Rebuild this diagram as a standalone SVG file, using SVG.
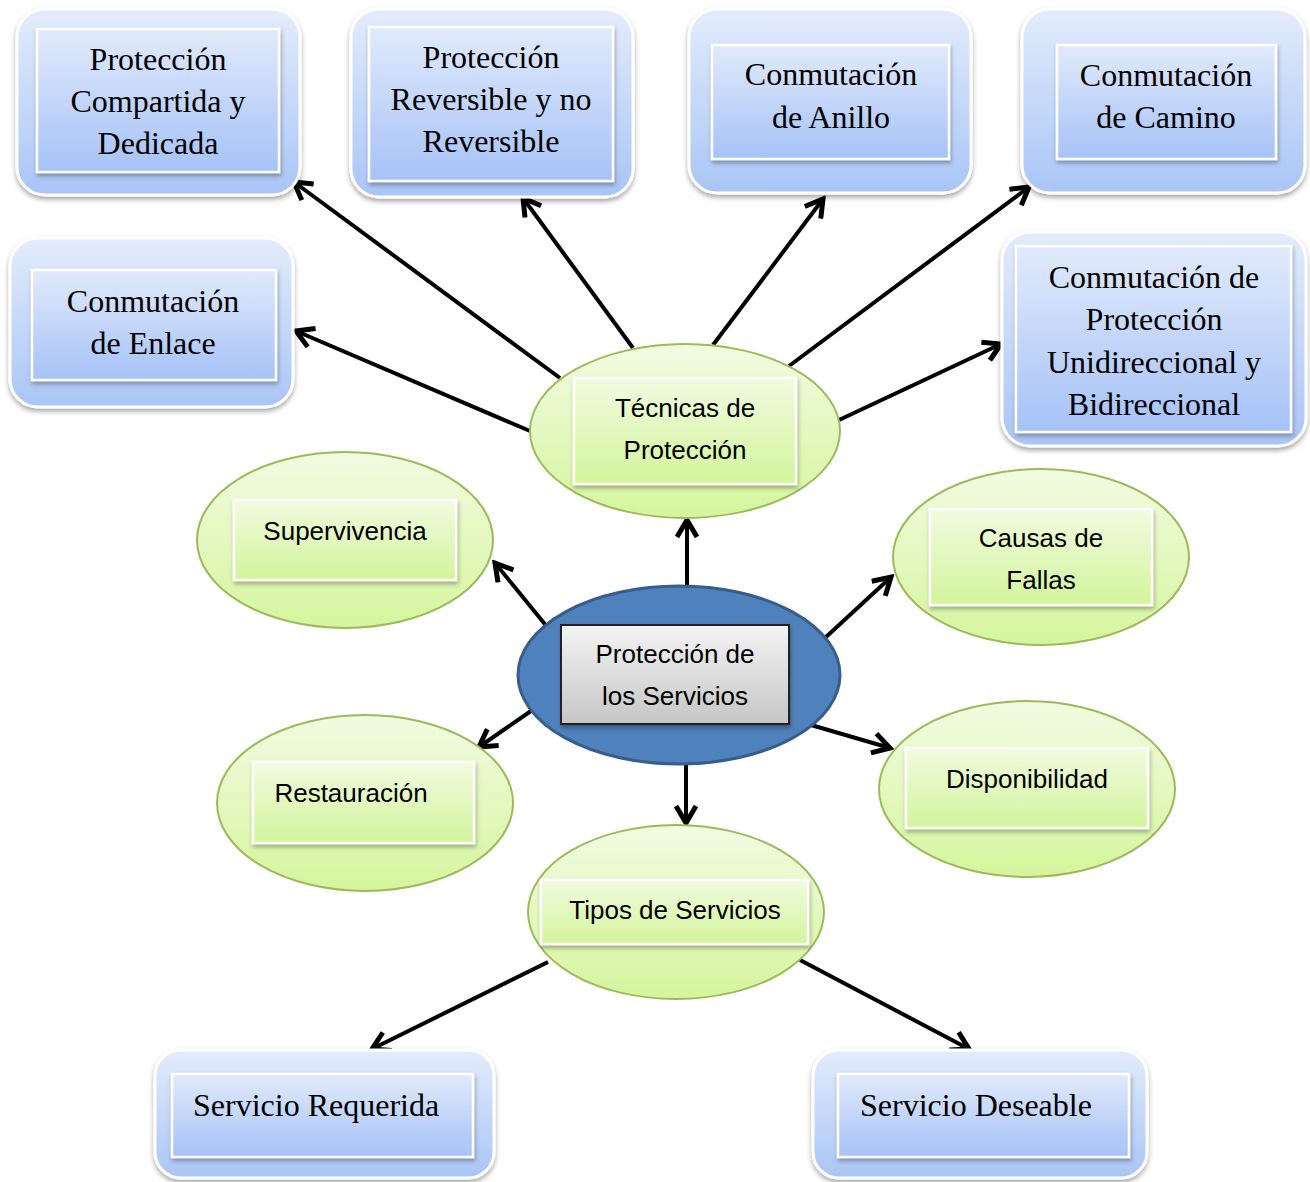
<svg xmlns="http://www.w3.org/2000/svg" width="1310" height="1182" viewBox="0 0 1310 1182">
<defs>
<linearGradient id="gBlueOuter" x1="0" y1="0" x2="0" y2="1"><stop offset="0" stop-color="#e3ecfb"/><stop offset="1" stop-color="#a9c5f6"/></linearGradient>
<linearGradient id="gBlueInner" x1="0" y1="0" x2="0" y2="1"><stop offset="0" stop-color="#e1eafb"/><stop offset="1" stop-color="#a6c2f7"/></linearGradient>
<linearGradient id="gGreen" x1="0" y1="0" x2="0" y2="1"><stop offset="0" stop-color="#f2fbe2"/><stop offset="1" stop-color="#d6f59d"/></linearGradient>
<linearGradient id="gGreenInner" x1="0" y1="0" x2="0" y2="1"><stop offset="0" stop-color="#f1fbe0"/><stop offset="1" stop-color="#d3f49b"/></linearGradient>
<linearGradient id="gGray" x1="0" y1="0" x2="0" y2="1"><stop offset="0" stop-color="#f4f4f4"/><stop offset="1" stop-color="#c6c6c6"/></linearGradient>
<filter id="sh" x="-10%" y="-10%" width="125%" height="130%"><feDropShadow dx="0" dy="3" stdDeviation="2.5" flood-color="#000" flood-opacity="0.35"/></filter>
<filter id="shs" x="-10%" y="-10%" width="125%" height="130%"><feDropShadow dx="1" dy="3" stdDeviation="2" flood-color="#000" flood-opacity="0.3"/></filter>
<marker id="arr" viewBox="0 0 24 24" refX="20" refY="12" markerWidth="24" markerHeight="24" markerUnits="userSpaceOnUse" orient="auto">
<path d="M3,2 L20,12 L3,22" fill="none" stroke="#000" stroke-width="5" stroke-linejoin="miter"/>
</marker>
</defs>
<style>
.outer{fill:url(#gBlueOuter);stroke:#fff;stroke-width:3;filter:url(#sh)}
.inner{fill:url(#gBlueInner);stroke:#fff;stroke-width:2.5;filter:url(#shs)}
.ell{fill:url(#gGreen);stroke:#9bbb59;stroke-width:2}
.gin{fill:url(#gGreenInner);stroke:#fff;stroke-width:2.5;filter:url(#shs)}
.serif{font-family:"Liberation Serif","Times New Roman",serif;font-size:32px;fill:#000;text-anchor:middle}
.sans{font-family:"Liberation Sans",Arial,sans-serif;font-size:26px;fill:#000;text-anchor:middle}
.conn line{stroke:#000;stroke-width:4;marker-end:url(#arr)}
</style>
<rect width="1310" height="1182" fill="#fff"/>

<g class="conn" id="connectors">
<line x1="687" y1="586" x2="687" y2="520"/>
<line x1="548" y1="628" x2="495" y2="563"/>
<line x1="826" y1="637" x2="891" y2="577"/>
<line x1="531" y1="711" x2="479" y2="747"/>
<line x1="811" y1="725" x2="890" y2="748"/>
<line x1="686" y1="765" x2="686" y2="823"/>
<line x1="560" y1="378" x2="294" y2="182"/>
<line x1="633" y1="348" x2="523" y2="198"/>
<line x1="713" y1="345" x2="823" y2="199"/>
<line x1="789" y1="366" x2="1029" y2="187"/>
<line x1="530" y1="431" x2="296" y2="331"/>
<line x1="839" y1="420" x2="1001" y2="344"/>
<line x1="548" y1="962" x2="372" y2="1049"/>
<line x1="800" y1="960" x2="969" y2="1049"/>
</g>

<g id="n-compartida">
<rect class="outer" x="17" y="9" width="283" height="186" rx="28"/>
<rect class="inner" x="37" y="29" width="242" height="143"/>
<text class="serif" x="158" y="70">Protección</text>
<text class="serif" x="158" y="112">Compartida y</text>
<text class="serif" x="158" y="154">Dedicada</text>
</g>
<g id="n-reversible">
<rect class="outer" x="351" y="9" width="282" height="188" rx="28"/>
<rect class="inner" x="369" y="27" width="244" height="154"/>
<text class="serif" x="491" y="68">Protección</text>
<text class="serif" x="491" y="110">Reversible y no</text>
<text class="serif" x="491" y="152">Reversible</text>
</g>
<g id="n-anillo">
<rect class="outer" x="689" y="9" width="282" height="184" rx="28"/>
<rect class="inner" x="712" y="45" width="237" height="114"/>
<text class="serif" x="831" y="85">Conmutación</text>
<text class="serif" x="831" y="128">de Anillo</text>
</g>
<g id="n-camino">
<rect class="outer" x="1022" y="9" width="283" height="184" rx="28"/>
<rect class="inner" x="1057" y="45" width="219" height="114"/>
<text class="serif" x="1166" y="86">Conmutación</text>
<text class="serif" x="1166" y="128">de Camino</text>
</g>
<g id="n-enlace">
<rect class="outer" x="10" y="238" width="283" height="169" rx="28"/>
<rect class="inner" x="32" y="270" width="244" height="110"/>
<text class="serif" x="153" y="312">Conmutación</text>
<text class="serif" x="153" y="354">de Enlace</text>
</g>
<g id="n-unidireccional">
<rect class="outer" x="1002" y="232" width="304" height="214" rx="28"/>
<rect class="inner" x="1016" y="246" width="275" height="186"/>
<text class="serif" x="1154" y="288">Conmutación de</text>
<text class="serif" x="1154" y="330">Protección</text>
<text class="serif" x="1154" y="373">Unidireccional y</text>
<text class="serif" x="1154" y="415">Bidireccional</text>
</g>
<g id="n-requerida">
<rect class="outer" x="155" y="1050" width="339" height="128" rx="26"/>
<rect class="inner" x="172" y="1074" width="301" height="83"/>
<text class="serif" x="193" y="1116" style="text-anchor:start">Servicio Requerida</text>
</g>
<g id="n-deseable">
<rect class="outer" x="813" y="1050" width="334" height="128" rx="26"/>
<rect class="inner" x="838" y="1074" width="291" height="83"/>
<text class="serif" x="860" y="1116" style="text-anchor:start">Servicio Deseable</text>
</g>

<g id="n-tecnicas">
<ellipse class="ell" cx="685" cy="431" rx="155" ry="87"/>
<rect class="gin" x="574" y="378" width="222" height="106"/>
<text class="sans" x="685" y="417">Técnicas de</text>
<text class="sans" x="685" y="459">Protección</text>
</g>
<g id="n-supervivencia">
<ellipse class="ell" cx="345" cy="540" rx="148" ry="88"/>
<rect class="gin" x="234" y="500" width="222" height="80"/>
<text class="sans" x="345" y="540">Supervivencia</text>
</g>
<g id="n-causas">
<ellipse class="ell" cx="1041" cy="557" rx="148" ry="88"/>
<rect class="gin" x="930" y="509" width="222" height="96"/>
<text class="sans" x="1041" y="547">Causas de</text>
<text class="sans" x="1041" y="589">Fallas</text>
</g>
<g id="n-restauracion">
<ellipse class="ell" cx="365" cy="803" rx="148" ry="88"/>
<rect class="gin" x="253" y="762" width="221" height="81"/>
<text class="sans" x="351" y="802">Restauración</text>
</g>
<g id="n-disponibilidad">
<ellipse class="ell" cx="1027" cy="789" rx="148" ry="88"/>
<rect class="gin" x="906" y="748" width="242" height="80"/>
<text class="sans" x="1027" y="788">Disponibilidad</text>
</g>
<g id="n-tipos">
<ellipse class="ell" cx="676" cy="912" rx="148" ry="87"/>
<rect class="gin" x="541" y="880" width="267" height="64"/>
<text class="sans" x="675" y="919">Tipos de Servicios</text>
</g>

<g id="n-central">
<ellipse cx="679" cy="675" rx="161" ry="89" fill="#4f81bd" stroke="#385d8a" stroke-width="3"/>
<rect x="561" y="625" width="228" height="99" fill="url(#gGray)" stroke="#222" stroke-width="2" filter="url(#shs)"/>
<text class="sans" x="675" y="663">Protección de</text>
<text class="sans" x="675" y="705">los Servicios</text>
</g>
</svg>
